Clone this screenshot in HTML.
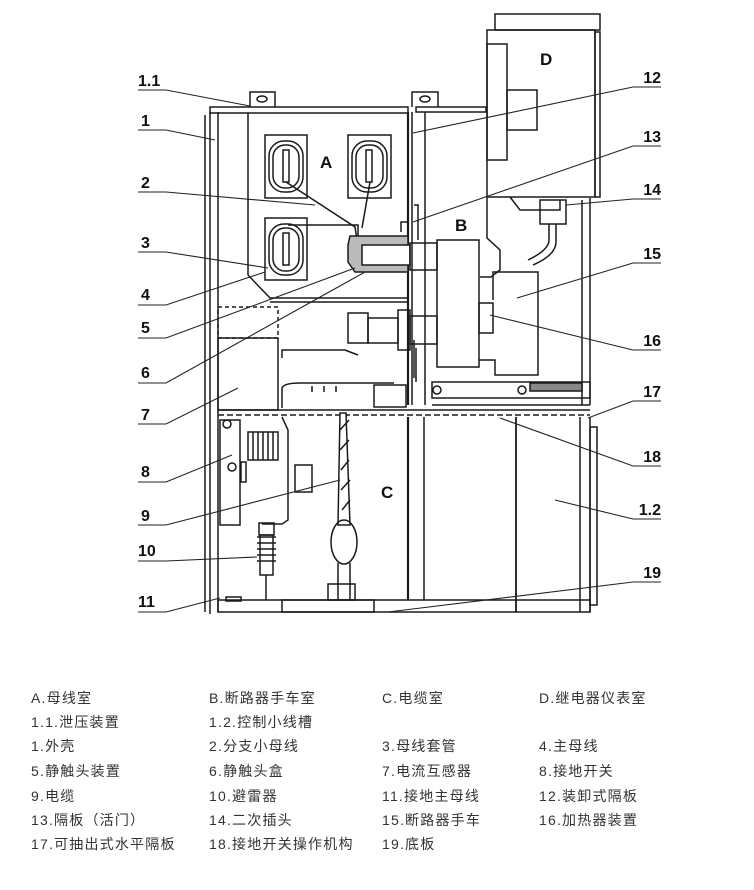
<!DOCTYPE html>
<html><head><meta charset="utf-8"><style>
html,body{margin:0;padding:0;background:#fff;}
body{width:754px;height:890px;position:relative;overflow:hidden;}
svg{position:absolute;left:0;top:0;}
.lg{position:absolute;font-family:"Liberation Sans","Noto Sans CJK SC",sans-serif;font-size:14px;color:#333;white-space:nowrap;letter-spacing:1.2px;}
</style></head><body>
<svg width="754" height="660" viewBox="0 0 754 660" font-family="Liberation Sans, sans-serif">
<g fill="none" stroke="#1a1a1a" stroke-width="1.5">
<line x1="205" y1="115" x2="205" y2="612"/><line x1="210" y1="112" x2="210" y2="614"/><line x1="218" y1="112" x2="218" y2="612"/>
<rect x="210" y="107" width="198" height="6"/>
<path d="M250 107 V92 H275 V107"/><ellipse cx="262" cy="99" rx="5" ry="3"/>
<path d="M412 107 V92 H438 V107"/><ellipse cx="425" cy="99" rx="5" ry="3"/>
<rect x="416" y="107" width="70" height="5"/>
<line x1="248" y1="113" x2="248" y2="275"/>
<line x1="408" y1="112" x2="408" y2="405" stroke-width="2.2"/><line x1="412" y1="112" x2="412" y2="405"/>
<line x1="425" y1="112" x2="425" y2="405"/>
<path d="M248 275 L270 298 H408"/><line x1="270" y1="302" x2="408" y2="302"/>
<rect x="265" y="135" width="42" height="63"/><rect x="269" y="141" width="34" height="51" rx="15"/><rect x="273" y="145" width="26" height="43" rx="12"/><rect x="283" y="150" width="6" height="32"/>
<rect x="348" y="135" width="43" height="63"/><rect x="352" y="141" width="35" height="51" rx="15"/><rect x="356" y="145" width="27" height="43" rx="12"/><rect x="366" y="150" width="6" height="32"/>
<rect x="265" y="218" width="42" height="62"/><rect x="269" y="224" width="34" height="51" rx="15"/><rect x="273" y="228" width="26" height="43" rx="12"/><rect x="283" y="233" width="6" height="32"/>
<path d="M286 182 L355 227 L357 240"/><path d="M370 182 L362 228"/><path d="M288 225 H358 V240"/>
<path d="M350 236 H408 V272 H355 L348 262 V245 Z" fill="#bbb"/>
<rect x="362" y="245" width="48" height="20" fill="#fff"/>
<rect x="410" y="243" width="27" height="27"/>
<path d="M401 232 V222 H409"/><path d="M414 205 H418 V240"/>
<rect x="495" y="14" width="105" height="16"/>
<rect x="487" y="30" width="108" height="167"/><rect x="595" y="32" width="5" height="165"/>
<rect x="487" y="44" width="20" height="116"/><rect x="507" y="90" width="30" height="40"/>
<path d="M487 197 V238 L500 250 V270 L491 277 H480"/>
<rect x="437" y="240" width="42" height="127"/>
<path d="M479 360 H495 V375 H538 V272 H493 V300"/>
<rect x="479" y="303" width="14" height="30"/>
<path d="M510 197 L520 210 H560 V200"/>
<rect x="540" y="200" width="26" height="24"/>
<path d="M549 224 V240 Q549 250 528 260 M556 224 V242 Q556 255 533 265" />
<line x1="582" y1="200" x2="582" y2="405"/><line x1="590" y1="198" x2="590" y2="405"/>
<rect x="432" y="382" width="158" height="16"/><line x1="432" y1="405" x2="590" y2="405"/>
<rect x="530" y="383" width="52" height="8" fill="#888"/>
<circle cx="437" cy="390" r="4"/><circle cx="522" cy="390" r="4"/>
<rect x="348" y="313" width="20" height="30"/><rect x="368" y="318" width="30" height="25"/>
<rect x="398" y="310" width="12" height="40"/><rect x="410" y="316" width="27" height="28"/>
<path d="M282 358 V350 H345 Q350 352 358 355"/>
<path d="M414 340 V378 M416 348 V382"/>
<rect x="218" y="307" width="60" height="31" stroke-dasharray="4 3"/>
<rect x="218" y="338" width="60" height="72"/>
<path d="M282 408 V388 Q284 383 300 383 H394"/><path d="M312 392 V386 M324 392 V386 M336 392 V386"/>
<rect x="374" y="385" width="32" height="22"/>
<line x1="218" y1="410" x2="590" y2="410"/><line x1="218" y1="415" x2="590" y2="415" stroke-dasharray="6 3"/>
<line x1="408" y1="417" x2="408" y2="600" stroke-width="2.2"/><line x1="424" y1="417" x2="424" y2="600"/>
<line x1="516" y1="417" x2="516" y2="612" stroke-width="1.8"/>
<line x1="580" y1="417" x2="580" y2="612"/><line x1="590" y1="417" x2="590" y2="612"/>
<rect x="590" y="427" width="7" height="178"/>
<rect x="218" y="600" width="372" height="12"/>
<rect x="282" y="600" width="92" height="12"/>
<rect x="220" y="420" width="20" height="105"/><circle cx="227" cy="424" r="4"/><circle cx="232" cy="467" r="4"/>
<rect x="248" y="432" width="30" height="28"/><path d="M253 432 V460 M258 432 V460 M263 432 V460 M268 432 V460 M273 432 V460"/>
<rect x="241" y="462" width="5" height="20"/>
<path d="M282 417 L288 430 V520 L282 524 H262"/>
<rect x="295" y="465" width="17" height="27"/>
<path d="M340 413 L346 413 L350 525 L338 525 Z" fill="#fff"/>
<path d="M340 430 L349 420 M340 450 L349 440 M341 470 L349 460 M341 490 L350 480 M342 510 L350 500"/>
<ellipse cx="344" cy="542" rx="13" ry="22"/>
<path d="M338 563 V600 M350 563 V600"/><rect x="328" y="584" width="27" height="16"/>
<rect x="259" y="523" width="15" height="12"/>
<path d="M257 537 H276 M257 543 H276 M257 549 H276 M257 555 H276 M257 561 H276"/>
<rect x="260" y="535" width="13" height="40"/><line x1="266" y1="575" x2="266" y2="600"/>
<rect x="226" y="597" width="15" height="4"/>
</g>
<g font-weight="bold" font-size="16" fill="#111">
<text x="138" y="86">1.1</text><text x="141" y="126">1</text><text x="141" y="188">2</text><text x="141" y="248">3</text>
<text x="141" y="300">4</text><text x="141" y="333">5</text><text x="141" y="378">6</text><text x="141" y="420">7</text>
<text x="141" y="477">8</text><text x="141" y="521">9</text><text x="138" y="556">10</text><text x="138" y="607">11</text>
<g text-anchor="end"><text x="661" y="83">12</text><text x="661" y="142">13</text><text x="661" y="195">14</text><text x="661" y="259">15</text>
<text x="661" y="346">16</text><text x="661" y="397">17</text><text x="661" y="462">18</text><text x="661" y="515">1.2</text><text x="661" y="578">19</text></g>
</g>
<g fill="none" stroke="#222" stroke-width="1.1">
<path d="M138 90 H166 L250 106"/><path d="M138 130 H166 L215 140"/><path d="M138 192 H166 L315 205"/>
<path d="M138 252 H166 L268 268"/><path d="M138 305 H166 L265 272"/><path d="M138 338 H166 L355 268"/>
<path d="M138 383 H166 L365 272"/><path d="M138 424 H166 L238 388"/><path d="M138 482 H166 L232 455"/>
<path d="M138 525 H166 L340 480"/><path d="M138 561 H166 L257 557"/><path d="M138 612 H166 L220 598"/>
<path d="M661 87 H633 L413 133"/><path d="M661 146 H633 L413 222"/><path d="M661 199 H633 L566 205"/>
<path d="M661 263 H633 L517 298"/><path d="M661 350 H633 L490 315"/><path d="M661 401 H633 L588 418"/>
<path d="M661 466 H633 L500 418"/><path d="M661 519 H633 L555 500"/><path d="M661 582 H633 L388 612"/>
</g>
<g font-weight="bold" font-size="17" fill="#111">
<text x="320" y="168">A</text><text x="455" y="231">B</text><text x="381" y="498">C</text><text x="540" y="65">D</text>
</g>
</svg>
<div class="lg" style="left:31px;top:688px">A.母线室</div><div class="lg" style="left:209px;top:688px">B.断路器手车室</div><div class="lg" style="left:382px;top:688px">C.电缆室</div><div class="lg" style="left:539px;top:688px">D.继电器仪表室</div>
<div class="lg" style="left:31px;top:712px">1.1.泄压装置</div><div class="lg" style="left:209px;top:712px">1.2.控制小线槽</div>
<div class="lg" style="left:31px;top:736px">1.外壳</div><div class="lg" style="left:209px;top:736px">2.分支小母线</div><div class="lg" style="left:382px;top:736px">3.母线套管</div><div class="lg" style="left:539px;top:736px">4.主母线</div>
<div class="lg" style="left:31px;top:761px">5.静触头装置</div><div class="lg" style="left:209px;top:761px">6.静触头盒</div><div class="lg" style="left:382px;top:761px">7.电流互感器</div><div class="lg" style="left:539px;top:761px">8.接地开关</div>
<div class="lg" style="left:31px;top:786px">9.电缆</div><div class="lg" style="left:209px;top:786px">10.避雷器</div><div class="lg" style="left:382px;top:786px">11.接地主母线</div><div class="lg" style="left:539px;top:786px">12.装卸式隔板</div>
<div class="lg" style="left:31px;top:810px">13.隔板（活门）</div><div class="lg" style="left:209px;top:810px">14.二次插头</div><div class="lg" style="left:382px;top:810px">15.断路器手车</div><div class="lg" style="left:539px;top:810px">16.加热器装置</div>
<div class="lg" style="left:31px;top:834px">17.可抽出式水平隔板</div><div class="lg" style="left:209px;top:834px">18.接地开关操作机构</div><div class="lg" style="left:382px;top:834px">19.底板</div>
</body></html>
